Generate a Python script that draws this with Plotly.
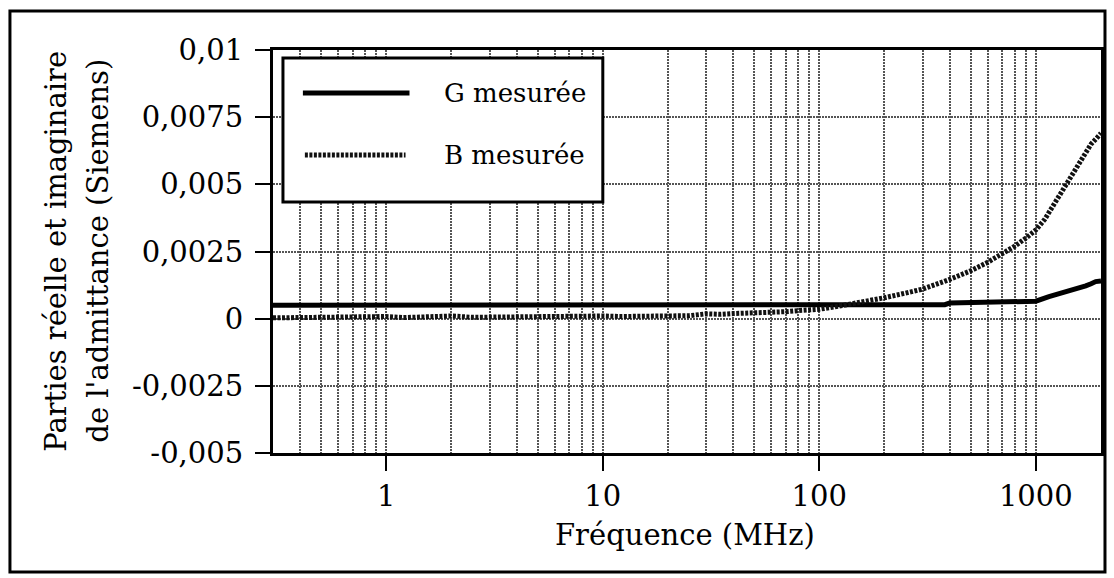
import plotly.graph_objects as go

# ---- data ----
freq_g = [0.3, 0.5, 1, 2, 5, 10, 20, 50, 100, 200, 300, 380, 400, 500, 600, 700,
          800, 900, 1000, 1150, 1250, 1360, 1450, 1590, 1700, 1800, 1890, 2000]
g_meas = [0.0005, 0.0005, 0.0005, 0.0005, 0.0005, 0.0005, 0.0005, 0.0005, 0.0005,
          0.0005, 0.0005, 0.00052, 0.00058, 0.00059, 0.0006, 0.00061, 0.00062,
          0.00062, 0.00065, 0.00082, 0.0009, 0.00097, 0.00105, 0.00116, 0.00122,
          0.0013, 0.00138, 0.0014]

freq_b = [0.3, 0.4, 0.5, 0.6, 0.7, 0.8, 0.9, 1, 1.2, 1.5, 1.8, 2, 2.5, 3, 4, 5, 6, 7,
          8, 10, 12, 15, 20, 25, 30, 35, 40, 50, 60, 70, 80, 100, 120, 150, 200, 250,
          300, 400, 500, 600, 700, 800, 900, 1000, 1100, 1200, 1300, 1400, 1500,
          1600, 1700, 1800, 1900, 2000]
b_meas = [0.00003, 0.00004, 0.00006, 0.00004, 0.00005, 0.00007, 0.00005, 0.00008,
          0.00004, 0.00006, 0.00005, 0.0001, 0.00005, 0.00006, 0.00007, 0.00005,
          0.00006, 0.00008, 0.00007, 0.0001, 0.00008, 0.0001, 0.00012, 0.00011,
          0.00018, 0.00016, 0.00019, 0.0002, 0.00024, 0.00026, 0.0003, 0.00035,
          0.00045, 0.00058, 0.00078, 0.00095, 0.0011, 0.00146, 0.00178, 0.0021,
          0.0024, 0.0027, 0.003, 0.0033, 0.0037, 0.0042, 0.0047, 0.0051, 0.0055,
          0.0059, 0.0062, 0.0065, 0.0067, 0.0069]

y_ticks = [0.01, 0.0075, 0.005, 0.0025, 0, -0.0025, -0.005]
y_ticktext = ["0,01", "0,0075", "0,005", "0,0025", "0", "-0,0025", "-0,005"]
x_ticks = [1, 10, 100, 1000]
x_ticktext = ["1", "10", "100", "1000"]
x_minor = [m * 10 ** e for e in range(-1, 4) for m in range(2, 10) if 0.3 <= m * 10 ** e <= 2000]

series_names = ["G mesurée", "B mesurée"]
x_title = "Fréquence (MHz)"
y_title = ["Parties réelle et imaginaire", "de l'admittance (Siemens)"]

# ---- layout geometry (pixels) ----
W, H = 1114, 578
L, R, T, B = 273, 1104, 50, 453
FONT = "DejaVu Serif"
GRID = dict(gridcolor="#555", griddash="2px,1px", gridwidth=1.5)


def px(x):
    return (x - L) / (R - L)


def py(y):
    return (B - y) / (B - T)


fig = go.Figure()
fig.add_trace(go.Scatter(x=freq_g, y=g_meas, mode="lines", name=series_names[0],
                         line=dict(color="black", width=5), showlegend=False))
fig.add_trace(go.Scatter(x=freq_b, y=b_meas, mode="lines", name=series_names[1],
                         line=dict(color="#111", width=5, dash="3px,1.5px"),
                         showlegend=False))

fig.update_xaxes(type="log", range=[-0.5229, 3.30103], tickvals=x_ticks,
                 ticktext=x_ticktext, ticks="outside", ticklen=15, tickwidth=2,
                 tickcolor="black", showline=True, linecolor="black", linewidth=3,
                 mirror=True, showgrid=True, **GRID,
                 minor=dict(tickvals=x_minor, showgrid=True, ticks="", **GRID),
                 tickfont=dict(family=FONT, size=29, color="black"), zeroline=False)
fig.update_yaxes(range=[-0.005, 0.01], tickvals=y_ticks, ticktext=y_ticktext,
                 ticks="outside", ticklen=15, tickwidth=2, tickcolor="black",
                 showline=True, linecolor="black", linewidth=3, mirror=True,
                 showgrid=True, **GRID, zeroline=False, ticklabelstandoff=6,
                 tickfont=dict(family=FONT, size=29, color="black"))

shapes = [
    # outer frame
    dict(type="rect", xref="paper", yref="paper", x0=px(9), x1=px(1108),
         y0=py(572), y1=py(11), line=dict(color="black", width=3),
         fillcolor="rgba(0,0,0,0)"),
    # legend box
    dict(type="rect", xref="paper", yref="paper", x0=px(283), x1=px(604),
         y0=py(202), y1=py(58), line=dict(color="black", width=3),
         fillcolor="white"),
    dict(type="line", xref="paper", yref="paper", x0=px(303), x1=px(410),
         y0=py(93), y1=py(93), line=dict(color="black", width=5)),
    dict(type="line", xref="paper", yref="paper", x0=px(305), x1=px(406),
         y0=py(155), y1=py(155), line=dict(color="#111", width=5, dash="3px,1.5px")),
]

annotations = [
    dict(text=series_names[0], x=px(443), y=py(93), xref="paper", yref="paper",
         xanchor="left", yanchor="middle", showarrow=False,
         font=dict(family=FONT, size=26, color="black")),
    dict(text=series_names[1], x=px(443), y=py(155), xref="paper", yref="paper",
         xanchor="left", yanchor="middle", showarrow=False,
         font=dict(family=FONT, size=26, color="black")),
    dict(text=x_title, x=px(686), y=py(535), xref="paper", yref="paper",
         xanchor="center", yanchor="middle", showarrow=False,
         font=dict(family=FONT, size=29, color="black")),
    dict(text=y_title[0], x=px(55), y=py(251), xref="paper", yref="paper",
         xanchor="center", yanchor="middle", showarrow=False, textangle=-90,
         font=dict(family=FONT, size=29, color="black")),
    dict(text=y_title[1], x=px(97), y=py(251), xref="paper", yref="paper",
         xanchor="center", yanchor="middle", showarrow=False, textangle=-90,
         font=dict(family=FONT, size=29, color="black")),
]

fig.update_layout(width=W, height=H, margin=dict(l=L, r=W - R, t=T, b=H - B),
                  paper_bgcolor="white", plot_bgcolor="white",
                  shapes=shapes, annotations=annotations, showlegend=False,
                  font=dict(family=FONT, color="black"))

fig.write_html("out.html")
